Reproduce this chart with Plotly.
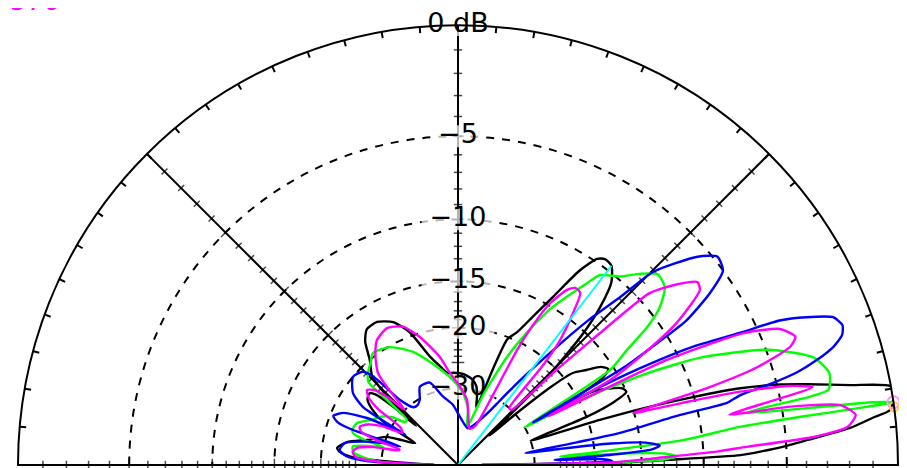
import plotly.graph_objects as go

# ---------------- data (elevation angle in degrees, gain in dB) ----------------
black = [(0, -50), (1.0, -16), (1.4, -12.8), (2.0, -7.6), (2.6, -6.3), (3.2, -5.2), (4.1, -3.9), (5.4, -1.9),
         (6.5, -0.9), (7.2, -0.2), (8.5, 0), (10.3, 0), (11.5, -1.6), (13.0, -3.5), (14.0, -4.8), (15.2, -7),
         (16.1, -10), (17.0, -14), (17.6, -18.4), (18.5, -30),
         (19.5, -26), (20.5, -20), (22.0, -16.5), (23.5, -15), (25.0, -15.2), (27.0, -16.5), (28.5, -18), (29.5, -28),
         (30.0, -20), (31.0, -16.5), (32.5, -15.5), (34.5, -16), (36.5, -17.4), (38.7, -18.8), (40.0, -22), (41.5, -30),
         (43.0, -40), (44.0, -30), (44.5, -22), (45.5, -18), (46.5, -15), (48.0, -12.5), (50.0, -10.5), (52.4, -9.6),
         (54.5, -9.5), (56.0, -9.8), (58.0, -11.2), (60.5, -14.1), (63.0, -16.5), (66.0, -19), (68.6, -20.3),
         (70.0, -25), (71.3, -31.6), (72.5, -34),
         (74.4, -31.4), (77.0, -29), (80.0, -28), (85.0, -27.2), (88.8, -26.9), (93.0, -26.8), (96.8, -26.7),
         (100.0, -25.5), (104.5, -23.5), (110.0, -19.5), (114.4, -17.7), (119.5, -16.9), (124.0, -17), (127.0, -18),
         (130.0, -20), (134.0, -21.8), (136.0, -26), (137.0, -35),
         (138.0, -28), (139.5, -24), (141.0, -23.2), (144.0, -23.5), (147.0, -25), (150.0, -28), (153.0, -38),
         (156.0, -34), (158.5, -30), (162.0, -28), (164.6, -26.5), (168.3, -23.3), (172.0, -22), (174.0, -22.6),
         (175.5, -24), (177.0, -30), (180, -50)]

magenta = [(0, -50), (1.0, -18), (2.2, -12.8), (3.0, -9), (3.6, -7.2), (4.5, -3.6), (5.6, -2), (7.2, -1.6),
           (8.9, -2.2), (9.6, -3.5), (10.0, -4.7), (10.5, -8), (11.0, -7), (12.4, -3.3), (13.5, -4.5), (14.7, -7.5),
           (15.5, -11), (16.5, -15.1),
           (17.2, -8.8), (18.1, -5.75), (19.6, -3.8), (20.8, -3.4), (22.9, -3.95), (24.8, -5.8), (26.7, -10.8),
           (27.5, -18), (28.3, -25),
           (29.2, -15.8), (30.7, -12.6), (33.0, -9), (35.9, -6.65), (37.4, -6.5), (39.5, -7.5), (41.9, -9.2),
           (42.9, -14.1), (44.0, -20), (46.0, -30),
           (48.0, -30), (49.5, -21), (50.6, -17.5), (52.9, -14.35), (54.6, -12.6), (56.5, -12.5), (58.1, -13),
           (60.4, -14.8), (62.0, -18), (62.8, -21), (63.5, -30), (66.0, -40),
           (72.0, -42), (77.5, -38), (82.0, -32.7), (88.5, -29.6), (95.0, -26.8), (99.5, -23.9), (106.5, -20.5),
           (111.7, -18.6), (117.4, -18), (123.0, -18.6), (127.0, -20), (131.0, -22), (132.3, -24.5), (133.0, -27),
           (134.0, -30), (136.0, -26), (138.0, -23.5), (140.5, -22.6), (143.0, -23.5), (145.0, -26), (147.0, -32),
           (150.0, -33), (153.0, -28), (156.0, -25.5), (158.8, -24.5), (161.0, -25), (163.0, -28), (165.0, -34),
           (166.0, -34), (168.0, -28), (170.5, -25), (173.0, -24.4), (175.5, -25), (177.5, -29), (180, -50)]

green = [(0, -50), (0.8, -20), (1.5, -13), (2.3, -12), (3.2, -13), (4.0, -17), (4.8, -25),
         (5.3, -20), (6.3, -11.4), (7.7, -7.5), (8.0, -4.2), (8.1, -1.1), (8.2, 0), (8.6, -0.8), (9.2, -3.5),
         (10.2, -7), (10.6, -6), (11.0, -3.5), (11.5, -2.6), (13.9, -2.4), (16.8, -2.9), (20.4, -4.9),
         (23.9, -8.7), (26.0, -13), (28.0, -20), (29.5, -30),
         (30.5, -25), (32.0, -15.4), (34.2, -13.2), (36.1, -10.8), (38.0, -9.3), (40.7, -8.2), (43.7, -8),
         (46.5, -8.8), (49.3, -9.8), (53.2, -10.6), (54.7, -11.7), (59.0, -14.9), (62.0, -18), (65.6, -22.5),
         (70.0, -30), (76.7, -41.6),
         (80.0, -35), (86.0, -31), (93.4, -28.2), (102.0, -25.4), (111.9, -22), (120.2, -20.1), (127.2, -19.6),
         (130.8, -20.4), (134.0, -21), (137.2, -22), (137.6, -25.8), (138.6, -32),
         (141.0, -32), (144.0, -29), (148.0, -27), (152.0, -26), (157.4, -23.9), (161.0, -23.6), (163.0, -23.8),
         (165.0, -26), (166.5, -30),
         (168.0, -27), (170.0, -24.3), (173.0, -24.5), (176.0, -27), (178.5, -32), (180, -50)]

blue = [(0, -50), (0.8, -22), (1.5, -18), (2.3, -19), (3.0, -26), (3.8, -18), (4.6, -14), (5.5, -13.3),
        (6.8, -14.5), (8.0, -18), (9.0, -25), (10.0, -32),
        (10.8, -22), (11.2, -16.8), (12.7, -11.3), (13.0, -8), (13.9, -7.1), (14.6, -5.2), (15.3, -3.85),
        (16.3, -2.8), (17.5, -1.9), (18.7, -1.4), (20.0, -1.25), (21.5, -1.5), (23.0, -2.6), (24.2, -3.8),
        (25.1, -5.9), (26.8, -9), (28.0, -13), (29.0, -19), (29.6, -28),
        (30.0, -22), (30.5, -14), (31.2, -11.7), (32.3, -8.4), (34.3, -6.3), (36.3, -5.0), (38.8, -4.8),
        (41.0, -5.6), (44.7, -8.1), (46.0, -10.9), (48.0, -14), (50.4, -18.6), (54.0, -25), (57.0, -30),
        (60.0, -34), (65.0, -38), (75.0, -42), (87.6, -38), (95.0, -34), (102.4, -31.5), (108.9, -27.8),
        (116.0, -27.8), (120.3, -30.2), (124.0, -31), (127.8, -30.8), (131.7, -27.8), (133.0, -24),
        (134.0, -21.6), (135.6, -20.5), (140.0, -20), (145.6, -21.3), (148.6, -23.6), (149.5, -29), (150.0, -34),
        (151.0, -30), (152.7, -25), (155.5, -21.5), (158.5, -20.4), (160.4, -21.2), (161.5, -23.5),
        (161.8, -28), (162.2, -34),
        (163.5, -30), (166.0, -26), (169.0, -23), (172.8, -22.4), (175.5, -23.5), (177.5, -27), (180, -50)]

cursor_angle = 52.4      # cyan cursor line (elevation angle, deg)
cursor_db = -9.6
max_marker_angle = 8.2   # marker at maximum gain
max_marker_db = 0.0

ring_db = [-5, -10, -15, -20, -30]
label_db = [0, -5, -10, -15, -20, -30]
label_text = ["0 dB", "\u2212" + "5", "\u2212" + "10", "\u2212" + "15", "\u2212" + "20", "\u2212" + "30"]
axis_angles = [0, 45, 90, 135, 180]
tick_db = list(range(-1, -26, -1))
corner_text = "576"


def arrl(db):
    """ARRL log scale: each dB step shrinks the radius by sqrt(0.89)."""
    return 0.89 ** (-db / 2.0)


fig = go.Figure()

# radial tick marks along the 0/45/90/135/180 degree axes
tk_r, tk_t, tk_a, tk_s = [], [], [], []
for ang in axis_angles:
    for d in tick_db:
        tk_r.append(arrl(d))
        tk_t.append(ang)
        tk_a.append(90 - ang)
        tk_s.append(9 if d % 5 == 0 else 6)
fig.add_trace(go.Scatterpolar(r=tk_r, theta=tk_t, mode="markers", hoverinfo="skip", showlegend=False,
                              marker=dict(symbol="line-ew", size=tk_s, angle=tk_a,
                                          line=dict(color="black", width=1.5))))

# white boxes behind the dB labels
box_w = [72, 38, 52, 52, 52, 52]
fig.add_trace(go.Scatterpolar(r=[arrl(d) for d in label_db], theta=[90] * len(label_db), mode="markers",
                              hoverinfo="skip", showlegend=False, cliponaxis=False,
                              marker=dict(symbol="line-ew", size=box_w, line=dict(color="white", width=22))))
fig.add_trace(go.Scatterpolar(r=[arrl(d) for d in label_db], theta=[90] * len(label_db), mode="text",
                              text=label_text, textposition="middle center", hoverinfo="skip",
                              showlegend=False, cliponaxis=False,
                              textfont=dict(family="DejaVu Sans", size=27, color="#000000")))

# pattern curves
for series, col in [(black, "#000000"), (green, "#00ff00"), (blue, "#0000ff"), (magenta, "#ff00ff")]:
    fig.add_trace(go.Scatterpolar(r=[arrl(d) for _, d in series], theta=[a for a, _ in series],
                                  mode="lines", line=dict(color=col, width=2.4, shape="spline", smoothing=0.6),
                                  showlegend=False, hoverinfo="skip"))

# cursor line
fig.add_trace(go.Scatterpolar(r=[0, arrl(cursor_db)], theta=[cursor_angle, cursor_angle], mode="lines",
                              line=dict(color="#00ffff", width=2), showlegend=False, hoverinfo="skip"))

# maximum markers
fig.add_trace(go.Scatterpolar(r=[arrl(max_marker_db)], theta=[max_marker_angle], mode="markers",
                              showlegend=False, hoverinfo="skip", cliponaxis=False,
                              marker=dict(symbol="circle-open", size=12, line=dict(color="#00ff00", width=2))))
fig.add_trace(go.Scatterpolar(r=[arrl(max_marker_db)], theta=[max_marker_angle - 0.6], mode="markers",
                              showlegend=False, hoverinfo="skip", cliponaxis=False,
                              marker=dict(symbol="circle-open", size=9, line=dict(color="#ff00ff", width=2))))

# overlay subplot used only for the 5-degree ticks on the outer circle
fig.add_trace(go.Scatterpolar(r=[None], theta=[None], subplot="polar2", showlegend=False, hoverinfo="skip"))

fig.update_layout(
    width=899, height=460, autosize=False,
    margin=dict(l=10, r=9, t=17, b=3),
    paper_bgcolor="white",
    polar=dict(
        domain=dict(x=[0, 1], y=[0, 1]), sector=[0, 180], bgcolor="white",
        radialaxis=dict(range=[0, 1], tickmode="array", tickvals=[arrl(d) for d in ring_db],
                        showticklabels=False, ticks="", showline=False, showgrid=True,
                        gridcolor="black", gridwidth=1.5, griddash="8px,8px"),
        angularaxis=dict(tickmode="array", tickvals=axis_angles, showticklabels=False, ticks="",
                         showgrid=True, gridcolor="black", gridwidth=1.5, showline=True,
                         linecolor="black", linewidth=2, direction="counterclockwise", rotation=0),
    ),
    polar2=dict(
        domain=dict(x=[0, 1], y=[0, 1]), sector=[0, 180], bgcolor="rgba(0,0,0,0)",
        radialaxis=dict(range=[0, 1], visible=False),
        angularaxis=dict(tickmode="linear", tick0=0, dtick=5, ticks="inside", ticklen=6, tickwidth=1.5,
                         tickcolor="black", showgrid=False, showline=False, showticklabels=False,
                         direction="counterclockwise", rotation=0),
    ),
    annotations=[dict(text=corner_text, xref="paper", yref="paper", x=-0.0114, y=1.016,
                      xanchor="left", yanchor="bottom", showarrow=False,
                      font=dict(family="DejaVu Sans", size=26, color="#ff00ff"))],
)

fig.write_html("out.html")
